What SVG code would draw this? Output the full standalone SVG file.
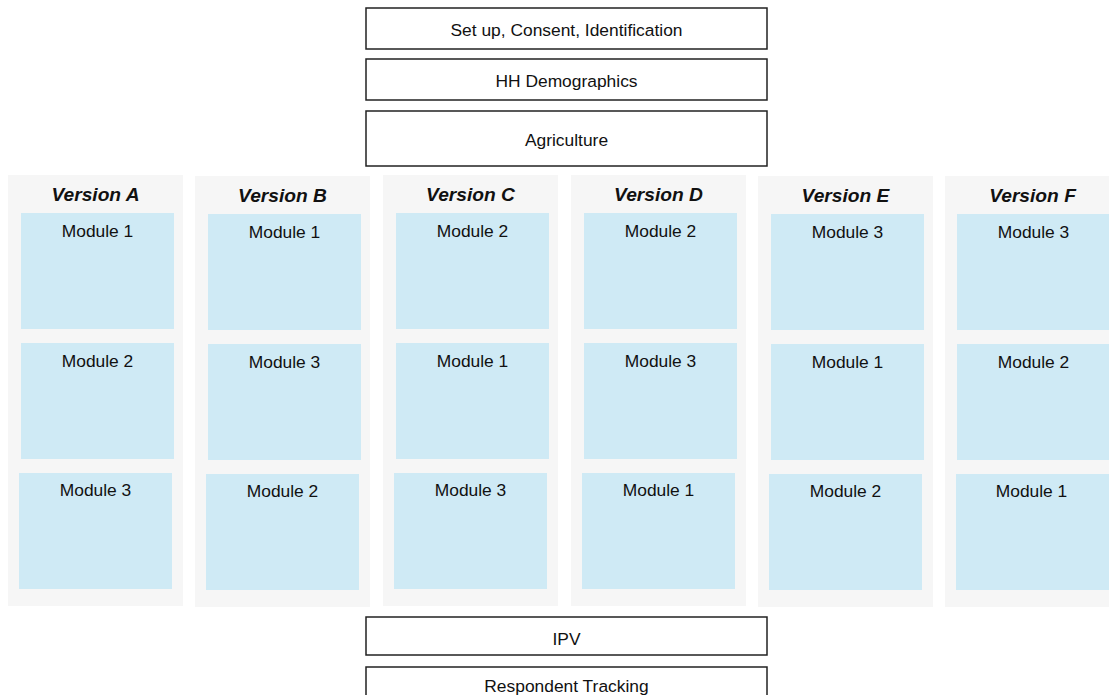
<svg xmlns="http://www.w3.org/2000/svg" width="1109" height="695" viewBox="0 0 1109 695">
<style>
.bg{fill:#ffffff}
.box{fill:#ffffff;stroke:#222222;stroke-width:1.5}
.panel{fill:#f6f6f6}
.mod{fill:#cfeaf5}
.t{font-family:"Liberation Sans",Arial,sans-serif;font-size:17.4px;fill:#111111;text-anchor:middle}
.title{font-family:"Liberation Sans",Arial,sans-serif;font-size:19.2px;font-weight:bold;font-style:italic;fill:#111111;text-anchor:middle}
</style>
<rect class="bg" x="0" y="0" width="1109" height="695"/>
<g id="connectors"></g>
<g id="setup"><rect class="box" x="366" y="8" width="401" height="41"/><text class="t" x="566.5" y="35.5">Set up, Consent, Identification</text></g>
<g id="hh"><rect class="box" x="366" y="59" width="401" height="41"/><text class="t" x="566.5" y="87">HH Demographics</text></g>
<g id="agri"><rect class="box" x="366" y="111" width="401" height="55"/><text class="t" x="566.5" y="146">Agriculture</text></g>

<g id="versionA">
<rect class="panel" x="8" y="175" width="175" height="431"/>
<text class="title" x="95.5" y="200.5">Version A</text>
<rect class="mod" x="21" y="213" width="153" height="116"/><text class="t" x="97.5" y="237">Module 1</text>
<rect class="mod" x="21" y="343" width="153" height="116"/><text class="t" x="97.5" y="367">Module 2</text>
<rect class="mod" x="19" y="473" width="153" height="116"/><text class="t" x="95.5" y="496">Module 3</text>
</g>
<g id="versionB">
<rect class="panel" x="195" y="176" width="175" height="431"/>
<text class="title" x="282.5" y="201.5">Version B</text>
<rect class="mod" x="208" y="214" width="153" height="116"/><text class="t" x="284.5" y="238">Module 1</text>
<rect class="mod" x="208" y="344" width="153" height="116"/><text class="t" x="284.5" y="368">Module 3</text>
<rect class="mod" x="206" y="474" width="153" height="116"/><text class="t" x="282.5" y="497">Module 2</text>
</g>
<g id="versionC">
<rect class="panel" x="383" y="175" width="175" height="431"/>
<text class="title" x="470.5" y="200.5">Version C</text>
<rect class="mod" x="396" y="213" width="153" height="116"/><text class="t" x="472.5" y="237">Module 2</text>
<rect class="mod" x="396" y="343" width="153" height="116"/><text class="t" x="472.5" y="367">Module 1</text>
<rect class="mod" x="394" y="473" width="153" height="116"/><text class="t" x="470.5" y="496">Module 3</text>
</g>
<g id="versionD">
<rect class="panel" x="571" y="175" width="175" height="431"/>
<text class="title" x="658.5" y="200.5">Version D</text>
<rect class="mod" x="584" y="213" width="153" height="116"/><text class="t" x="660.5" y="237">Module 2</text>
<rect class="mod" x="584" y="343" width="153" height="116"/><text class="t" x="660.5" y="367">Module 3</text>
<rect class="mod" x="582" y="473" width="153" height="116"/><text class="t" x="658.5" y="496">Module 1</text>
</g>
<g id="versionE">
<rect class="panel" x="758" y="176" width="175" height="431"/>
<text class="title" x="845.5" y="201.5">Version E</text>
<rect class="mod" x="771" y="214" width="153" height="116"/><text class="t" x="847.5" y="238">Module 3</text>
<rect class="mod" x="771" y="344" width="153" height="116"/><text class="t" x="847.5" y="368">Module 1</text>
<rect class="mod" x="769" y="474" width="153" height="116"/><text class="t" x="845.5" y="497">Module 2</text>
</g>
<g id="versionF">
<rect class="panel" x="945" y="176" width="175" height="431"/>
<text class="title" x="1032.5" y="201.5">Version F</text>
<rect class="mod" x="957" y="214" width="153" height="116"/><text class="t" x="1033.5" y="238">Module 3</text>
<rect class="mod" x="957" y="344" width="153" height="116"/><text class="t" x="1033.5" y="368">Module 2</text>
<rect class="mod" x="956" y="474" width="153" height="116"/><text class="t" x="1031.5" y="497">Module 1</text>
</g>

<g id="ipv"><rect class="box" x="366" y="617" width="401" height="38"/><text class="t" x="566.5" y="645">IPV</text></g>
<g id="tracking"><rect class="box" x="366" y="667" width="401" height="40"/><text class="t" x="566.5" y="691.5">Respondent Tracking</text></g>
</svg>
